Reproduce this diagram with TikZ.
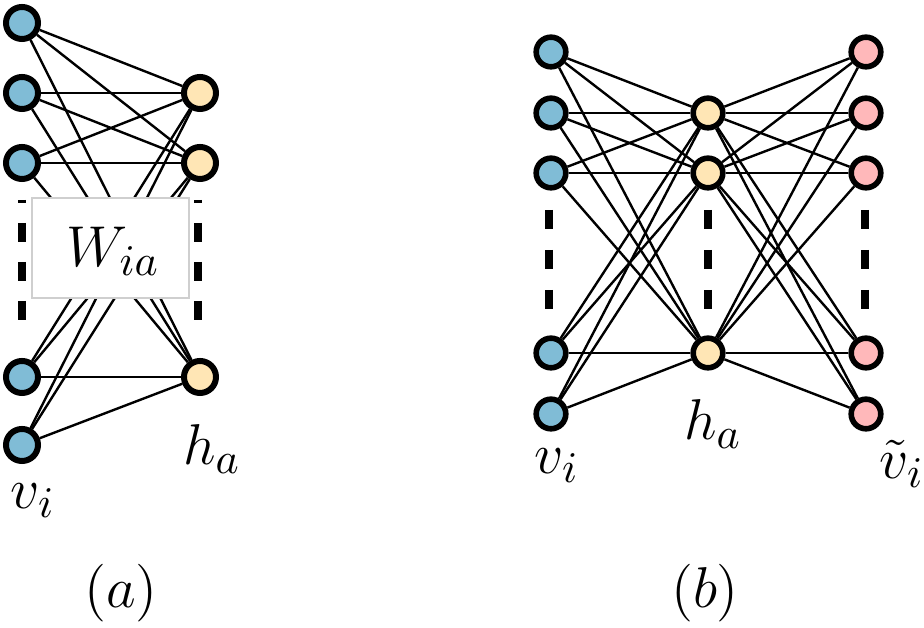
\documentclass[tikz,border=0pt]{standalone}
\usepackage{amsmath}
\usepackage{tikz}
\usetikzlibrary{backgrounds}
\definecolor{visc}{HTML}{80BCD6}
\definecolor{hidc}{HTML}{FFE6B5}
\definecolor{recc}{HTML}{FFB8BA}
\definecolor{boxline}{HTML}{CFCFCF}
\tikzset{
  unit/.style={circle, draw=black, line width=1.5pt, minimum size=8pt, inner sep=0pt},
  unitb/.style={unit, line width=1.4pt, minimum size=7.4pt},
  link/.style={draw=black, line width=0.6pt},
  dotsa/.style={line width=2pt, dash pattern=on 4.75pt off 5pt, dash phase=4pt},
  dotsb/.style={line width=2pt, dash pattern=on 4.75pt off 5.25pt},
  lab/.style={font=\fontsize{15}{18}\selectfont, inner sep=0pt}
}

\begin{document}
\begin{tikzpicture}[x=0.25pt,y=-0.25pt]
        \useasboundingbox (0,0) rectangle (924,628);

        % panel (a): visible and hidden units
        \foreach \n/\y in {1/23,2/93,3/163,4/377,5/445} {
          \node[unit,fill=visc] (av\n) at (22,\y) {};
        }
        \foreach \n/\y in {1/93,2/163,3/377} {
          \node[unit,fill=hidc] (ah\n) at (200,\y) {};
        }
        \begin{scope}[on background layer]
          \foreach \i in {1,...,5} {
            \foreach \j in {1,2,3} {
              \draw[link] (av\i) -- (ah\j);
            }
          }
        \end{scope}

        % weight box
        \node[draw=boxline,fill=white,line width=0.4pt,minimum width=39.25pt,minimum height=25pt,inner sep=0pt] (wbox) at (110.5,248) {};
        \node[lab,font=\fontsize{15.5}{18}\selectfont] (wlab) at (113,251) {$W_{ia}$};

        % dots
        \draw[dotsa] (22,200) -- (22,323);
        \draw[dotsa] (198,200) -- (198,323);

        % labels (a)
        \node[lab] (avlab) at (33,501) {$v_i$};
        \node[lab] (ahlab) at (212,449) {$h_a$};
        \node[lab] (acap) at (121,593) {$(a)$};

        % panel (b): visible, hidden and reconstructed units
        \foreach \n/\y in {1/52,2/113,3/173,4/353,5/414} {
          \node[unitb,fill=visc] (bv\n) at (551,\y) {};
          \node[unitb,fill=recc] (bo\n) at (866,\y) {};
        }
        \foreach \n/\y in {1/113,2/173,3/353} {
          \node[unitb,fill=hidc] (bh\n) at (708,\y) {};
        }
        \begin{scope}[on background layer]
          \foreach \i in {1,...,5} {
            \foreach \j in {1,2,3} {
              \draw[link] (bv\i) -- (bh\j);
              \draw[link] (bh\j) -- (bo\i);
            }
          }
        \end{scope}

        % dots
        \draw[dotsb] (549,210) -- (549,310);
        \draw[dotsb] (708,210) -- (708,310);
        \draw[dotsb] (865,210) -- (865,310);

        % labels (b)
        \node[lab] (bvlab) at (557,466) {$v_i$};
        \node[lab] (bhlab) at (713,424) {$h_a$};
        \node[lab] (bolab) at (902,464) {$\tilde{v}_i$};
        \node[lab] (bcap) at (705,593) {$(b)$};
      \end{tikzpicture}
\end{document}
